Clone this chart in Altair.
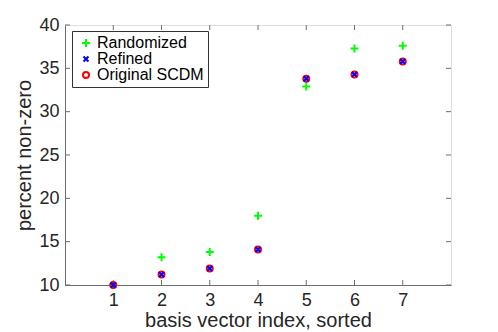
import altair as alt
import pandas as pd

# ---- data ----
idx = [1, 2, 3, 4, 5, 6, 7]
randomized = [10.0, 13.2, 13.8, 18.0, 32.9, 37.3, 37.6]
refined = [10.0, 11.2, 11.9, 14.1, 33.8, 34.3, 35.8]
original = [10.0, 11.2, 11.9, 14.1, 33.8, 34.3, 35.8]
series = ["Randomized", "Refined", "Original SCDM"]
x_ticks = [1, 2, 3, 4, 5, 6, 7]
y_ticks = [10, 15, 20, 25, 30, 35, 40]

# draw order: green first, red circles, blue crosses on top
rows = []
for name, vals in [("Randomized", randomized), ("Original SCDM", original), ("Refined", refined)]:
    for i, v in zip(idx, vals):
        rows.append({"idx": i, "value": v, "series": name})
df = pd.DataFrame(rows)

W, H = 386, 260
FONT = "Liberation Sans"
TXT = "#262626"
AX = "#6e6e6e"

xscale = alt.Scale(domain=[0, 8], nice=False, zero=False)
yscale = alt.Scale(domain=[10, 40], nice=False, zero=False)

plus = "M-1,0H1M0,-1V1"
xmark = "M-0.7,-0.7L0.7,0.7M-0.7,0.7L0.7,-0.7"

leg = alt.Legend(
    title=None, orient="none", legendX=7, legendY=6,
    strokeColor="#333333", fillColor="white", padding=4,
    labelFont=FONT, labelFontSize=16, labelColor="black",
    symbolSize=64, symbolStrokeWidth=2, symbolOffset=2, labelOffset=3,
    rowPadding=0, cornerRadius=0,
)

points = alt.Chart(df).mark_point(filled=False, strokeWidth=2, opacity=1).encode(
    x=alt.X("idx:Q", scale=xscale, axis=alt.Axis(
        values=x_ticks, title="basis vector index, sorted", ticks=False, grid=False,
        labelFontSize=18, titleFontSize=20, labelFont=FONT, titleFont=FONT,
        labelColor=TXT, titleColor=TXT, titleFontWeight="normal",
        labelPadding=6, titlePadding=1, domainColor=AX)),
    y=alt.Y("value:Q", scale=yscale, axis=alt.Axis(
        values=y_ticks, title="percent non-zero", ticks=False, grid=False,
        labelFontSize=18, titleFontSize=20, labelFont=FONT, titleFont=FONT,
        labelColor=TXT, titleColor=TXT, titleFontWeight="normal",
        labelPadding=6, titlePadding=4, domainColor=AX)),
    color=alt.Color("series:N", scale=alt.Scale(domain=series, range=["#00ff00", "#0000ff", "#ff0000"]), legend=leg),
    shape=alt.Shape("series:N", scale=alt.Scale(domain=series, range=[plus, xmark, "circle"]), legend=leg),
    size=alt.Size("series:N", scale=alt.Scale(domain=series, range=[64, 36, 72]), legend=None),
)

xt = pd.DataFrame({"t": x_ticks})
yt = pd.DataFrame({"t": y_ticks})
TL = 5
bottom_ticks = alt.Chart(xt).mark_rule(color=AX, strokeWidth=1).encode(
    x=alt.X("t:Q", scale=xscale), y=alt.value(H), y2=alt.value(H - TL))
top_ticks = alt.Chart(xt).mark_rule(color=AX, strokeWidth=1).encode(
    x=alt.X("t:Q", scale=xscale), y=alt.value(0), y2=alt.value(TL))
left_ticks = alt.Chart(yt).mark_rule(color=AX, strokeWidth=1).encode(
    y=alt.Y("t:Q", scale=yscale), x=alt.value(0), x2=alt.value(TL))
right_ticks = alt.Chart(yt).mark_rule(color=AX, strokeWidth=1).encode(
    y=alt.Y("t:Q", scale=yscale), x=alt.value(W), x2=alt.value(W - TL))

chart = alt.layer(bottom_ticks, top_ticks, left_ticks, right_ticks, points).properties(
    width=W, height=H,
    autosize=alt.AutoSizeParams(type="none"),
    padding={"left": 57, "top": 17, "right": 39, "bottom": 46},
).configure_view(stroke=AX, strokeWidth=1).configure(background="white")

chart.save("out.html", embed_options={"renderer": "svg", "actions": False})
